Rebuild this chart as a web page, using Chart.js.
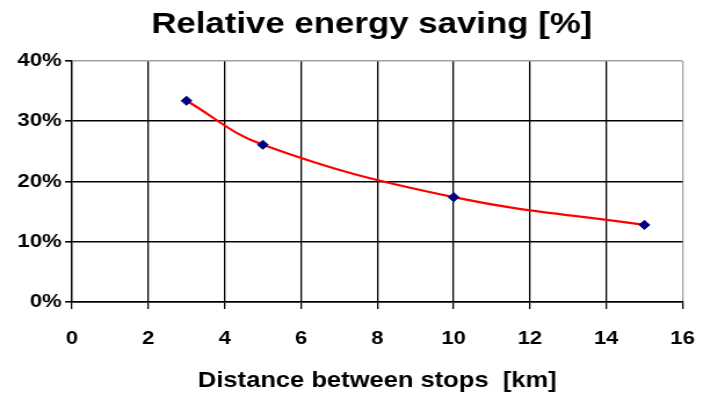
<!DOCTYPE html>
<html>
<head>
<meta charset="utf-8">
<script src="https://cdn.jsdelivr.net/npm/chart.js@4/dist/chart.umd.min.js"></script>
<style>
  html, body { margin: 0; padding: 0; background: #fff; overflow: hidden; }
  /* the chart is laid out narrower and widened a little horizontally */
  #wrap { width: 641px; height: 394px; transform: scaleX(1.16); transform-origin: 0 0; }
</style>
</head>
<body>
<div id="wrap"><canvas id="c" width="641" height="394"></canvas></div>
<script>
// distance between stops [km]
const distanceKm = [3, 5, 10, 15];
// relative energy saving [%]
const savingPct = [33.4, 26.1, 17.4, 12.8];
const xTicks = [0, 2, 4, 6, 8, 10, 12, 14, 16];
const yTicks = [0, 10, 20, 30, 40];

const FONT = "'Liberation Sans', Arial, sans-serif";

new Chart(document.getElementById('c'), {
  type: 'line',
  data: {
    datasets: [{
      data: distanceKm.map((d, i) => ({ x: d, y: savingPct[i] })),
      borderColor: '#ff0000',
      borderWidth: 2.2,
      tension: 0.4,
      pointStyle: 'rectRot',
      pointRadius: 4.6,
      pointBackgroundColor: '#000080',
      pointBorderColor: '#000080',
      pointBorderWidth: 1
    }]
  },
  options: {
    responsive: false,
    animation: false,
    devicePixelRatio: 1,
    layout: { padding: 0 },
    plugins: {
      legend: { display: false },
      tooltip: { enabled: false },
      title: {
        display: true,
        text: 'Relative energy saving [%]',
        color: '#000',
        font: { family: FONT, size: 30, weight: 'bold', lineHeight: 1.2 },
        padding: { top: 7, bottom: 18 }
      }
    },
    scales: {
      x: {
        type: 'linear',
        min: xTicks[0],
        max: xTicks[xTicks.length - 1],
        afterBuildTicks: s => { s.ticks = xTicks.map(v => ({ value: v })); },
        afterFit: s => { s.height = 92; },
        grid: {
          color: c => (c.tick && c.tick.value === 16) ? '#a0a0a0' : '#000',
          lineWidth: 1.3,
          tickColor: '#000',
          tickLength: 7
        },
        border: { color: '#000', width: 1.6 },
        ticks: {
          color: '#000',
          padding: 18,
          maxRotation: 0,
          font: { family: FONT, size: 19, weight: 'bold' }
        },
        title: {
          display: true,
          text: 'Distance between stops  [km]',
          color: '#000',
          font: { family: FONT, size: 22, weight: 'bold', lineHeight: 1.2 },
          padding: { top: 0, bottom: 0 }
        }
      },
      y: {
        min: yTicks[0],
        max: yTicks[yTicks.length - 1],
        afterBuildTicks: s => { s.ticks = yTicks.map(v => ({ value: v })); },
        afterFit: s => { s.width = 62.1; },
        grid: {
          color: c => (c.tick && c.tick.value === 40) ? '#a0a0a0' : '#000',
          lineWidth: 1.6,
          tickColor: '#000',
          tickLength: 6
        },
        border: { color: '#000', width: 1.3 },
        ticks: {
          color: '#000',
          padding: 3,
          callback: v => v + '%',
          font: { family: FONT, size: 19, weight: 'bold' }
        }
      },
      // empty right-hand margin beside the plot
      yRight: {
        position: 'right',
        min: yTicks[0],
        max: yTicks[yTicks.length - 1],
        grid: { display: false, drawTicks: false },
        border: { display: false },
        ticks: { display: false },
        afterFit: s => { s.width = 52.6; }
      }
    }
  }
});
</script>
</body>
</html>
